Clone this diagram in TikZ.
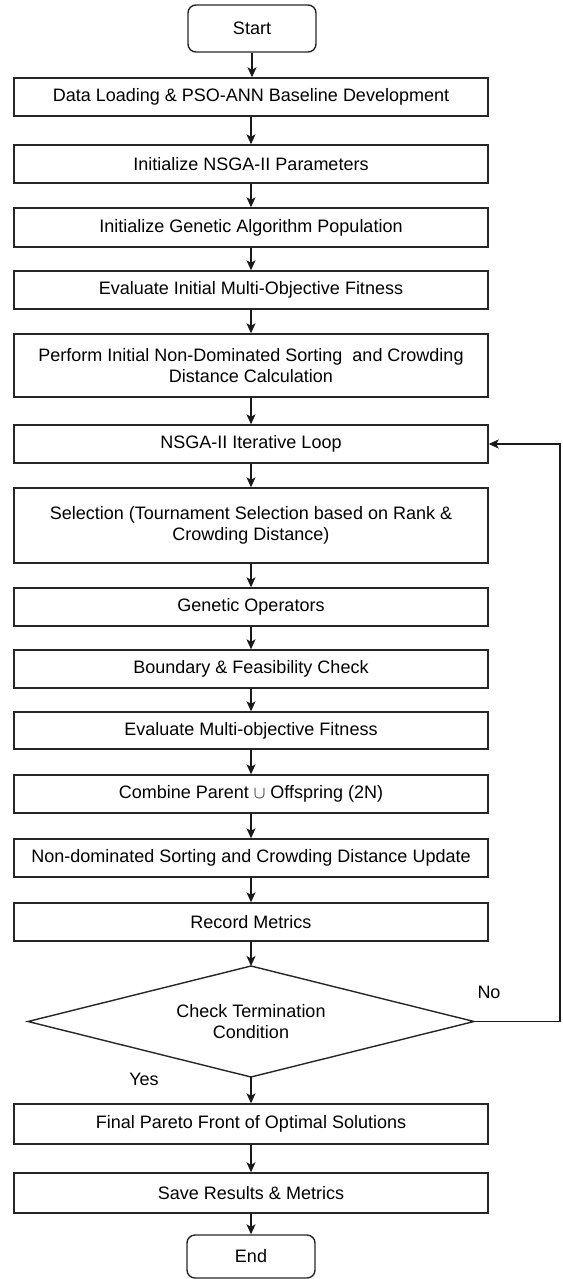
\documentclass[tikz,border=0pt]{standalone}
\usepackage{fontspec}
\setmainfont{Liberation Sans}
\usetikzlibrary{arrows.meta}
\tikzset{
  proc/.style={draw=black!85, line width=1.4pt, minimum width=474pt, inner sep=0pt, align=center,
    font=\fontsize{18}{20.5}\selectfont},
  term/.style={draw=black!85, line width=1.4pt, rounded corners=8pt, minimum width=128pt, inner sep=0pt,
    font=\fontsize{18}{20.5}\selectfont},
  decline/.style={draw=black!85, line width=1.4pt, line join=miter},
  dectext/.style={align=center, inner sep=0pt, font=\fontsize{18}{20.5}\selectfont},
  arr/.style={draw=black!90, line width=1.1pt, -{Stealth[length=10pt,width=9pt,inset=2.5pt]}},
  lbl/.style={font=\fontsize{18}{20.5}\selectfont, inner sep=0pt}
}
\begin{document}
\begin{tikzpicture}[x=1pt,y=-1pt]
\useasboundingbox (0,0) rectangle (562,1279);
\node[term, minimum height=47pt] (start) at (252,28.5) {Start};
\node[proc, minimum height=38pt] (b1) at (251,97) {Data Loading \& PSO-ANN Baseline Development};
\node[proc, minimum height=38pt] (b2) at (251,164) {Initialize NSGA-II Parameters};
\node[proc, minimum height=39pt] (b3) at (251,227.5) {Initialize Genetic Algorithm Population};
\node[proc, minimum height=38pt] (b4) at (251,290) {Evaluate Initial Multi-Objective Fitness};
\node[proc, minimum height=63pt] (b5) at (251,365.5) {Perform Initial Non-Dominated Sorting \ and Crowding\\Distance Calculation};
\node[proc, minimum height=38pt] (b6) at (251,444) {NSGA-II Iterative Loop};
\node[proc, minimum height=75pt] (b7) at (251,525.5) {Selection (Tournament Selection based on Rank \&\\Crowding Distance)};
\node[proc, minimum height=38pt] (b8) at (251,607) {Genetic Operators};
\node[proc, minimum height=38pt] (b9) at (251,669) {Boundary \& Feasibility Check};
\node[proc, minimum height=37pt] (b10) at (251,730.5) {Evaluate Multi-objective Fitness};
\node[proc, minimum height=38pt] (b11) at (251,794) {Combine Parent $\cup$ Offspring (2N)};
\node[proc, minimum height=38pt] (b12) at (251,858) {Non-dominated Sorting and Crowding Distance Update};
\node[proc, minimum height=38pt] (b13) at (251,922) {Record Metrics};
% decision diamond
\coordinate (dt) at (251,966);
\coordinate (dr) at (474,1021.5);
\coordinate (db) at (251,1077);
\coordinate (dl) at (28,1021.5);
\draw[decline] (dt) -- (dr) -- (db) -- (dl) -- cycle;
\node[dectext] (d) at (251,1021.5) {Check Termination\\Condition};
\node[proc, minimum height=40pt] (b14) at (251,1124) {Final Pareto Front of Optimal Solutions};
\node[proc, minimum height=40pt] (b15) at (251,1193) {Save Results \& Metrics};
\node[term, minimum height=43pt] (end) at (251,1256.5) {End};
\coordinate (lp) at (560,1021.5);
\node[lbl] (no) at (489,992) {No};
\node[lbl] (yes) at (144,1079) {Yes};

\draw[arr] (start.south) -- (start.south |- b1.north);
\draw[arr] (b1) -- (b2);
\draw[arr] (b2) -- (b3);
\draw[arr] (b3) -- (b4);
\draw[arr] (b4) -- (b5);
\draw[arr] (b5) -- (b6);
\draw[arr] (b6) -- (b7);
\draw[arr] (b7) -- (b8);
\draw[arr] (b8) -- (b9);
\draw[arr] (b9) -- (b10);
\draw[arr] (b10) -- (b11);
\draw[arr] (b11) -- (b12);
\draw[arr] (b12) -- (b13);
\draw[arr] (b13.south) -- (dt);
\draw[arr] (db) -- (b14.north);
\draw[arr] (b14) -- (b15);
\draw[arr] (b15) -- (end);
\draw[arr] (dr) -- (lp) |- (b6.east);
\end{tikzpicture}
\end{document}
